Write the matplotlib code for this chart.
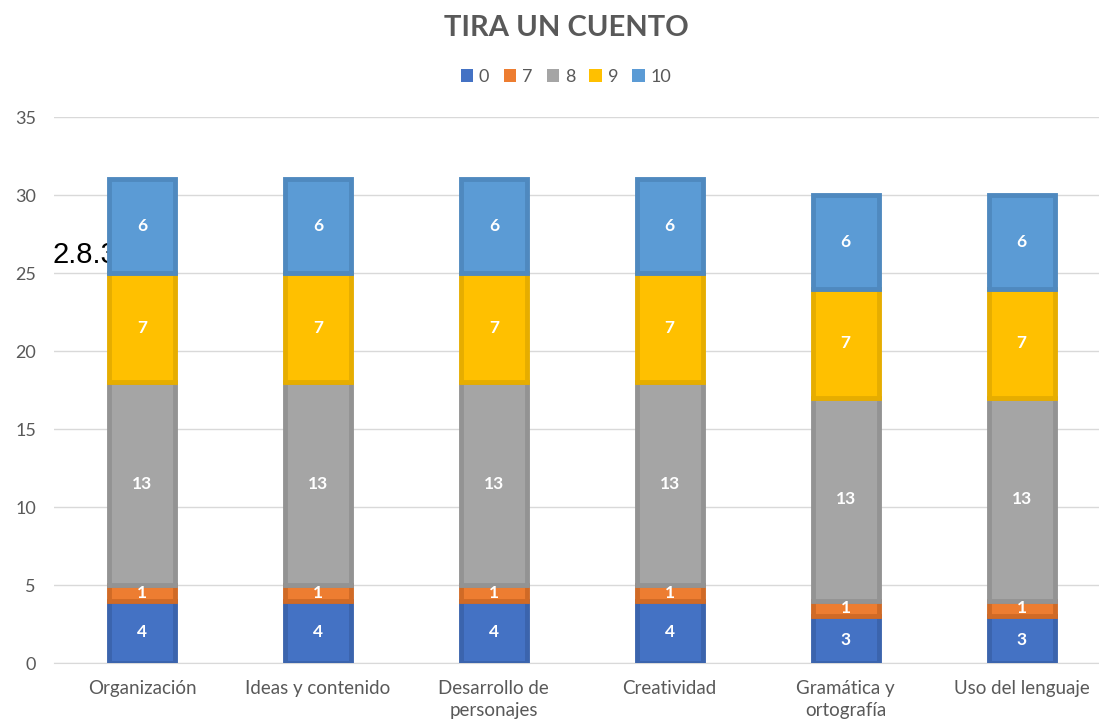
import matplotlib
matplotlib.use("Agg")
import matplotlib.pyplot as plt
import numpy as np

categories = ["Organización", "Ideas y contenido", "Desarrollo de\npersonajes",
              "Creatividad", "Gramática y\nortografía", "Uso del lenguaje"]
series_names = ["0", "7", "8", "9", "10"]
s0 = [4, 4, 4, 4, 3, 3]
s7 = [1, 1, 1, 1, 1, 1]
s8 = [13, 13, 13, 13, 13, 13]
s9 = [7, 7, 7, 7, 7, 7]
s10 = [6, 6, 6, 6, 6, 6]
yticks = [0, 5, 10, 15, 20, 25, 30, 35]

colors = ["#4472C4", "#ED7D31", "#A5A5A5", "#FFC000", "#5B9BD5"]
edges = ["#3B64AD", "#D06A26", "#939393", "#E6AD00", "#4F89BF"]

plt.rcParams['font.family'] = ['Lato', 'DejaVu Sans']

fig = plt.figure(figsize=(10.99, 7.25), dpi=100)
ax = fig.add_axes([54/1099, 1-663/725, 1-54/1099, (663-117)/725])

x = np.arange(len(categories))
bottom = np.zeros(len(categories))
data = [s0, s7, s8, s9, s10]
handles = []
for vals, name, c, e in zip(data, series_names, colors, edges):
    vals = np.array(vals, dtype=float)
    b = ax.bar(x, vals, width=0.375, bottom=bottom, color=c, edgecolor=e,
               linewidth=3.5, label=name, zorder=3)
    handles.append(b)
    for xi, v, bt in zip(x, vals, bottom):
        ax.text(xi, bt + v/2, f"{int(v)}", ha="center", va="center",
                color="white", fontsize=12.5, fontweight="bold", zorder=4)
    bottom += vals

ax.set_xlim(-0.5, 5.44)
ax.set_ylim(0, 35)
ax.set_yticks(yticks)
ax.set_xticks(x)
ax.set_xticklabels(categories, fontsize=13.5, color="#595959", linespacing=1.35)
ax.tick_params(axis="y", labelsize=13, colors="#595959", length=0, pad=13)
ax.tick_params(axis="x", length=0, pad=12)
ax.grid(axis="y", color="#D9D9D9", linewidth=1, zorder=0)
ax.set_axisbelow(True)
for s in ["top", "right", "left"]:
    ax.spines[s].set_visible(False)
ax.spines["bottom"].set_color("#D9D9D9")

fig.text(0.515, 1-28/725, "TIRA UN CUENTO", ha="center", va="center",
         fontsize=21, fontweight="bold", color="#595959")

leg = fig.legend(handles=handles, labels=series_names, loc="center",
                 bbox_to_anchor=(0.515, 1-77/725), ncol=5, frameon=False,
                 fontsize=13, handlelength=0.7, handleheight=0.7,
                 handletextpad=0.3, columnspacing=0.8)
for t in leg.get_texts():
    t.set_color("#595959")
for h in leg.legend_handles:
    h.set_linewidth(0)

ax.text(52/1099, 1-255/725, "2.8.3", transform=fig.transFigure, ha="left",
        va="center", fontsize=21, family="Liberation Sans", color="black",
        zorder=1, clip_on=False)

fig.savefig("out.png", dpi=100)
